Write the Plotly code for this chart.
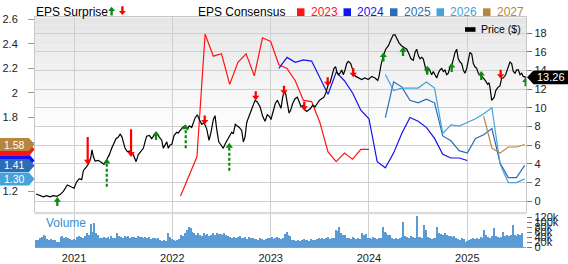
import plotly.graph_objects as go

FONT = "Liberation Sans, Arial, Helvetica, sans-serif"

# ================= DATA =================
# price: (decimal year, price $)
price_series = [
    (2020.614, 0.78), (2020.654, 0.61), (2020.688, 0.47), (2020.722, 0.61), (2020.756, 0.47),
    (2020.789, 0.61), (2020.824, 0.54), (2020.858, 0.72), (2020.891, 1.06), (2020.932, 1.74),
    (2020.966, 1.57), (2021.000, 1.40), (2021.027, 2.08), (2021.054, 2.42), (2021.078, 2.32),
    (2021.095, 3.28), (2021.122, 3.62), (2021.145, 3.96), (2021.170, 4.65), (2021.183, 5.50),
    (2021.196, 4.82), (2021.214, 4.31), (2021.247, 4.38), (2021.282, 4.13), (2021.305, 3.96),
    (2021.333, 4.48), (2021.359, 4.99), (2021.383, 5.67), (2021.407, 6.36), (2021.427, 6.70),
    (2021.451, 6.87), (2021.468, 7.21), (2021.488, 6.87), (2021.501, 6.36), (2021.519, 5.67),
    (2021.542, 5.33), (2021.570, 5.40), (2021.603, 4.99), (2021.631, 4.24), (2021.654, 4.99),
    (2021.678, 5.33), (2021.705, 5.67), (2021.722, 6.36), (2021.739, 6.97), (2021.766, 7.04),
    (2021.790, 6.70), (2021.814, 7.04), (2021.841, 7.31), (2021.867, 6.87), (2021.892, 6.53),
    (2021.908, 5.67), (2021.925, 6.02), (2021.943, 6.36), (2021.959, 5.67), (2021.976, 6.02),
    (2021.994, 6.08), (2022.017, 7.04), (2022.044, 7.38), (2022.061, 7.31), (2022.078, 7.55),
    (2022.105, 7.90), (2022.129, 8.07), (2022.152, 7.72), (2022.173, 8.07), (2022.197, 7.90),
    (2022.231, 8.92), (2022.254, 9.26), (2022.274, 8.75), (2022.299, 8.24), (2022.322, 8.41),
    (2022.350, 7.72), (2022.373, 6.53), (2022.393, 7.38), (2022.417, 8.75), (2022.434, 9.16),
    (2022.451, 7.72), (2022.472, 6.36), (2022.495, 6.02), (2022.518, 5.67), (2022.539, 6.19),
    (2022.559, 6.53), (2022.579, 6.87), (2022.604, 7.38), (2022.620, 7.21), (2022.640, 8.24),
    (2022.661, 8.06), (2022.681, 7.90), (2022.706, 7.55), (2022.722, 6.36), (2022.739, 6.87),
    (2022.756, 8.41), (2022.773, 8.92), (2022.790, 9.44), (2022.817, 10.11), (2022.841, 10.80),
    (2022.864, 10.63), (2022.892, 10.11), (2022.919, 9.09), (2022.942, 8.57), (2022.966, 9.26),
    (2022.986, 9.09), (2023.003, 8.75), (2023.027, 9.77), (2023.047, 10.46), (2023.068, 10.80),
    (2023.088, 10.27), (2023.105, 9.95), (2023.122, 11.14), (2023.139, 11.83), (2023.153, 11.49),
    (2023.169, 10.29), (2023.187, 9.44), (2023.204, 9.77), (2023.224, 10.46), (2023.248, 10.97),
    (2023.271, 11.14), (2023.291, 10.63), (2023.309, 10.11), (2023.332, 10.29), (2023.349, 9.77),
    (2023.367, 9.60), (2023.393, 9.77), (2023.407, 9.95), (2023.428, 10.29), (2023.451, 10.11),
    (2023.474, 10.46), (2023.495, 10.80), (2023.519, 10.97), (2023.542, 11.14), (2023.563, 11.65),
    (2023.586, 12.51), (2023.604, 12.68), (2023.621, 13.36), (2023.644, 14.22), (2023.661, 14.39),
    (2023.672, 13.88), (2023.688, 13.54), (2023.705, 13.70), (2023.722, 14.05), (2023.739, 13.54),
    (2023.756, 14.05), (2023.773, 14.73), (2023.790, 14.97), (2023.814, 14.73), (2023.830, 14.22),
    (2023.848, 13.54), (2023.865, 13.36), (2023.891, 13.19), (2023.926, 13.03), (2023.959, 13.19),
    (2023.993, 13.03), (2024.028, 13.36), (2024.061, 13.19), (2024.089, 12.92), (2024.102, 13.36),
    (2024.122, 14.56), (2024.146, 15.59), (2024.170, 16.27), (2024.196, 16.62), (2024.224, 17.30),
    (2024.247, 17.81), (2024.265, 17.81), (2024.282, 17.47), (2024.305, 16.95), (2024.333, 16.62),
    (2024.359, 16.44), (2024.384, 16.27), (2024.407, 15.75), (2024.427, 15.24), (2024.451, 15.08),
    (2024.468, 15.93), (2024.485, 16.27), (2024.502, 15.59), (2024.519, 15.24), (2024.536, 15.41),
    (2024.552, 15.24), (2024.570, 14.39), (2024.587, 13.70), (2024.610, 14.22), (2024.638, 13.54),
    (2024.654, 13.88), (2024.671, 13.54), (2024.689, 13.19), (2024.705, 13.70), (2024.722, 14.05),
    (2024.739, 14.22), (2024.756, 13.88), (2024.773, 14.05), (2024.790, 13.54), (2024.807, 13.70),
    (2024.824, 14.39), (2024.847, 14.73), (2024.875, 15.93), (2024.892, 16.27), (2024.908, 15.24),
    (2024.926, 14.90), (2024.943, 14.73), (2024.959, 14.05), (2024.976, 13.70), (2024.994, 14.22),
    (2025.010, 14.90), (2025.027, 15.93), (2025.045, 15.76), (2025.061, 14.73), (2025.078, 14.39),
    (2025.095, 14.22), (2025.112, 13.70), (2025.129, 13.54), (2025.146, 13.36), (2025.163, 13.19),
    (2025.187, 12.85), (2025.207, 12.51), (2025.221, 12.68), (2025.231, 12.16), (2025.248, 10.80),
    (2025.264, 10.97), (2025.274, 11.14), (2025.289, 11.83), (2025.309, 12.16), (2025.332, 12.34),
    (2025.350, 13.19), (2025.366, 13.19), (2025.390, 13.54), (2025.411, 14.22), (2025.434, 14.90),
    (2025.451, 14.73), (2025.468, 13.88), (2025.485, 13.70), (2025.502, 14.05), (2025.519, 14.05),
    (2025.536, 13.54), (2025.553, 13.70), (2025.569, 13.36), (2025.597, 13.26),
]

# EPS consensus (monthly), first month of each series
eps_years = ["2023", "2024", "2025", "2026", "2027"]
eps_start = {"2023": "2022-02", "2024": "2023-02", "2025": "2024-03", "2026": "2024-03", "2027": "2025-03"}
eps_2023 = [1.16, 1.32, 1.48, 2.48, 2.30, 2.32, 2.07, 2.25, 2.32, 2.14, 2.45, 2.42,
            2.23, 2.20, 2.10, 1.94, 1.93, 1.76, 1.52, 1.44, 1.51, 1.46, 1.54, 1.54]
eps_2024 = [2.20, 2.29, 2.25, 2.27, 2.26, 2.12, 1.99, 2.17, 2.10, 2.00, 1.86, 1.79,
            1.44, 1.39, 1.51, 1.67, 1.80, 1.77, 1.72, 1.63, 1.50, 1.47, 1.47, 1.45]
eps_2025 = [1.80, 2.09, 2.05, 1.94, 1.92, 1.95, 1.92, 1.65, 1.61, 1.53, 1.51, 1.63,
            1.66, 1.71, 1.43, 1.31, 1.31, 1.41]
eps_2026 = [2.15, 2.02, 2.04, 2.04, 2.04, 2.09, 2.04, 1.67, 1.74, 1.73, 1.76, 1.79,
            1.83, 1.88, 1.42, 1.27, 1.27, 1.30]
eps_2027 = [1.81, 1.55, 1.51, 1.56, 1.56, 1.58]
eps_values = {"2023": eps_2023, "2024": eps_2024, "2025": eps_2025, "2026": eps_2026, "2027": eps_2027}

# EPS surprise events: date, direction, arrow tip (price axis), far end of long arrows
surprise_t = [2020.830, 2021.139, 2021.333, 2021.580, 2021.834, 2022.136, 2022.329, 2022.579,
              2022.848, 2023.136, 2023.342, 2023.580, 2023.840, 2024.146, 2024.346, 2024.593,
              2024.841, 2025.142, 2025.339, 2025.594]
surprise_dir = ["up", "down", "up", "down", "up", "up", "down", "up",
                "down", "down", "down", "down", "down", "up", "up", "up",
                "up", "up", "down", "up"]
surprise_tip = [0.45, 3.90, 4.57, 4.75, 7.53, 8.23, 8.21, 6.26,
                10.80, 11.39, 9.68, 12.31, 13.26, 15.92, 16.50, 14.50,
                14.80, 13.94, 13.10, 13.26]
surprise_tail = [None, 6.87, 1.57, 7.72, None, 5.67, None, 3.28,
                 None, None, None, None, None, None, None, None,
                 None, None, None, None]

# weekly volume (thousands of shares)
volume_start = 2020.615
volume_k = [
    28, 30, 35, 40, 50, 45, 32, 30, 34, 28, 30, 22, 20, 40, 44, 38, 42, 36, 32, 30,
    34, 30, 42, 45, 40, 38, 44, 55, 50, 92, 60, 95, 55, 48, 38, 35, 42, 36, 40, 34,
    44, 38, 36, 55, 45, 42, 38, 45, 40, 44, 36, 42, 40, 38, 46, 40, 42, 38, 40, 36,
    40, 34, 38, 35, 32, 36, 28, 25, 30, 26, 55, 42, 34, 28, 26, 30, 32, 50, 45, 55,
    70, 82, 75, 60, 55, 50, 58, 50, 45, 55, 48, 52, 44, 50, 56, 50, 58, 52, 54, 48,
    56, 50, 46, 40, 38, 42, 36, 40, 44, 38, 36, 42, 34, 40, 38, 35, 32, 34, 30, 36,
    32, 30, 34, 38, 36, 40, 34, 38, 42, 36, 34, 38,
    52, 60, 48, 45, 28, 30, 26, 28, 25, 30, 32, 28, 30, 26, 34, 30, 28, 32, 36, 34,
    38, 32, 36, 40, 34, 36, 38, 70, 65, 82, 55, 50, 48, 36, 38, 34, 40, 36, 32, 38,
    34, 55, 50, 52, 36, 38, 34, 40, 36, 34, 38, 36, 82, 60, 55, 50, 48, 36, 34, 38,
    32, 36, 40, 100, 45, 42, 38, 44, 40, 36, 125, 40, 42, 38, 88, 70, 40, 36, 34, 38,
    36, 82, 55, 52, 48, 55, 50, 46, 44, 40, 46, 38, 34, 30, 36, 32, 22, 25, 28, 34,
    36, 32, 38, 34, 40, 36, 70, 50, 42, 38, 44, 75, 45, 42, 38, 40, 60, 44, 50, 44,
    48, 88, 50, 46, 52, 48, 55,
]

year_ticks = [2021, 2022, 2023, 2024, 2025]
year_labels = ["2021", "2022", "2023", "2024", "2025"]
eps_ticks = [1.2, 1.4, 1.6, 1.8, 2.0, 2.2, 2.4, 2.6]
eps_tick_labels = ["1.2", "1.4", "1.6", "1.8", "2", "2.2", "2.4", "2.6"]
price_ticks = [0, 2, 4, 6, 8, 10, 12, 14, 16, 18]
vol_ticks = [0, 20000, 40000, 60000, 80000, 100000, 120000]
vol_labels = ["0", "20k", "40k", "60k", "80k", "100k", "120k"]

# ================= LAYOUT / STYLE =================
W, H = 568, 264
PX_L, PX_R = 35.0, 526.3
PX_T, PX_B = 14.0, 217.3
PX_VT, PX_VB = 219.5, 254.0


def fx(px):
    return px / W


def fy(py):
    return 1 - py / H


X_RANGE = [2020.603, 2025.600]
EPS_RANGE = [1.028, 2.616]
PRICE_RANGE = [-1.17, 19.67]
VOL_RANGE = [0, 132500]

C_GRID = "#cfcfcf"
C_GREEN = "#0b8a0b"
C_RED = "#ff0000"
eps_colors = {"2023": "#ff1414", "2024": "#1212f2", "2025": "#2b6cb8",
              "2026": "#45a2da", "2027": "#b8853e"}
tag_order = ["2024", "2023", "2027", "2025", "2026"]

price_ppu = (PX_B - PX_T) / (PRICE_RANGE[1] - PRICE_RANGE[0])
eps_ppu = (PX_B - PX_T) / (EPS_RANGE[1] - EPS_RANGE[0])


def month_x(start, k):
    y, m = map(int, start.split("-"))
    return y + (m - 1 + k) / 12.0


def arrow_path(direction, head_w=3.6, head_h=4.6, stem_w=1.15, stem_len=4.4):
    s = 1 if direction == "up" else -1
    pts = [(0, 0), (head_w, -s * head_h), (stem_w, -s * head_h),
           (stem_w, -s * (head_h + stem_len)), (-stem_w, -s * (head_h + stem_len)),
           (-stem_w, -s * head_h), (-head_w, -s * head_h)]
    return "M" + " L".join(f"{x:.2f},{y:.2f}" for x, y in pts) + " Z"


fig = go.Figure()

# EPS consensus lines (left axis)
for yr in eps_years:
    vals = eps_values[yr]
    fig.add_trace(go.Scatter(
        x=[month_x(eps_start[yr], k) for k in range(len(vals))], y=vals,
        mode="lines", line=dict(color=eps_colors[yr], width=1.2),
        xaxis="x", yaxis="y", hoverinfo="skip"))

# price line (right axis)
fig.add_trace(go.Scatter(
    x=[p[0] for p in price_series], y=[p[1] for p in price_series],
    mode="lines", line=dict(color="#000000", width=1.2),
    xaxis="x", yaxis="y2", hoverinfo="skip"))

# volume bars
fig.add_trace(go.Bar(
    x=[volume_start + i / 52.18 for i in range(len(volume_k))],
    y=[v * 1000 for v in volume_k],
    width=0.72 / 52.18, marker=dict(color="#5b9bd5", line=dict(width=0)),
    xaxis="x2", yaxis="y3", hoverinfo="skip"))

shapes = []
# background gradient of the price panel
n_bands = 18
g_end = 140.0
for k in range(n_bands):
    y0 = PX_T + k * (g_end - PX_T) / n_bands
    y1 = PX_T + (k + 1) * (g_end - PX_T) / n_bands
    g = int(round(230 + (255 - 230) * k / (n_bands - 1)))
    shapes.append(dict(type="rect", xref="paper", yref="paper", layer="below",
                       x0=fx(PX_L), x1=fx(PX_R), y0=fy(y1), y1=fy(y0),
                       fillcolor=f"rgb({g},{g},{g})", line=dict(width=0)))

# separator between panels
shapes.append(dict(type="rect", xref="paper", yref="paper", layer="above",
                   x0=fx(PX_L), x1=fx(PX_R), y0=fy(PX_VT), y1=fy(PX_B),
                   fillcolor="#dcdcdc", line=dict(width=0)))

# surprise arrows
for t, d, tip, tail in zip(surprise_t, surprise_dir, surprise_tip, surprise_tail):
    col = C_GREEN if d == "up" else C_RED
    if tail is not None:
        head_h = 5.0
        base = tip - head_h / price_ppu if d == "up" else tip + head_h / price_ppu
        shapes.append(dict(type="line", xref="x", yref="y2", layer="above",
                           x0=t, x1=t, y0=tail, y1=base,
                           line=dict(color=col, width=2.2,
                                     dash="3px,2px" if d == "up" else "solid")))
        path = arrow_path(d, head_w=3.7, head_h=head_h, stem_w=0, stem_len=0)
    else:
        path = arrow_path(d)
    shapes.append(dict(type="path", xref="x", yref="y2", layer="above",
                       xsizemode="pixel", ysizemode="pixel", xanchor=t, yanchor=tip,
                       path=path, fillcolor=col, line=dict(width=0)))

annotations = []

# left EPS tags (last consensus values)
tag_path = (f"M 0,6.5 L {fx(29):.5f},6.5 L {fx(34.5):.5f},0 "
            f"L {fx(29):.5f},-6.5 L 0,-6.5 Z")
for i, yr in enumerate(tag_order):
    v = eps_values[yr][-1]
    shapes.append(dict(type="path", xref="paper", yref="y", layer="above",
                       ysizemode="pixel", yanchor=v, path=tag_path,
                       fillcolor=eps_colors[yr], line=dict(width=0)))
    covered = any(abs(eps_values[o][-1] - v) * eps_ppu < 10.5 for o in tag_order[i + 1:])
    if not covered:
        annotations.append(dict(xref="paper", yref="y", x=fx(14.8), y=v,
                                text=f"{v:.2f}", showarrow=False, xanchor="center",
                                yanchor="middle",
                                font=dict(family=FONT, size=10.5, color="white")))

# last-price tag
last_price = price_series[-1][1]
price_tag = (f"M {fx(527):.5f},0 L {fx(533.5):.5f},6.8 L 1,6.8 L 1,-6.8 "
             f"L {fx(533.5):.5f},-6.8 Z")
shapes.append(dict(type="path", xref="paper", yref="y2", layer="above",
                   ysizemode="pixel", yanchor=last_price, path=price_tag,
                   fillcolor="#000000", line=dict(width=0)))
annotations.append(dict(xref="paper", yref="y2", x=fx(550.5), y=last_price,
                        text=f"{last_price:.2f}", showarrow=False, xanchor="center",
                        yanchor="middle", font=dict(family=FONT, size=11, color="white")))

# header: EPS Surprise
annotations.append(dict(xref="paper", yref="paper", x=fx(34), y=fy(8.3),
                        text="EPS Surprise", showarrow=False, xanchor="left",
                        yanchor="middle", font=dict(family=FONT, size=12, color="#000")))
shapes.append(dict(type="path", xref="paper", yref="paper", xsizemode="pixel",
                   ysizemode="pixel", xanchor=fx(111.6), yanchor=fy(2.8),
                   path=arrow_path("up", head_w=3.5, head_h=4.2, stem_w=1.2, stem_len=4.6),
                   fillcolor=C_GREEN, line=dict(width=0)))
shapes.append(dict(type="path", xref="paper", yref="paper", xsizemode="pixel",
                   ysizemode="pixel", xanchor=fx(122.4), yanchor=fy(11.6),
                   path=arrow_path("down", head_w=3.5, head_h=4.2, stem_w=1.2, stem_len=4.6),
                   fillcolor=C_RED, line=dict(width=0)))

# header: EPS Consensus legend
annotations.append(dict(xref="paper", yref="paper", x=fx(196), y=fy(8.3),
                        text="EPS Consensus", showarrow=False, xanchor="left",
                        yanchor="middle", font=dict(family=FONT, size=12, color="#000")))
for k, yr in enumerate(eps_years):
    x0 = 297 + k * 46.5
    shapes.append(dict(type="rect", xref="paper", yref="paper",
                       x0=fx(x0), x1=fx(x0 + 7.5), y0=fy(12.5), y1=fy(4.5),
                       fillcolor=eps_colors[yr], line=dict(width=0)))
    annotations.append(dict(xref="paper", yref="paper", x=fx(x0 + 11.5), y=fy(8.3),
                            text=yr, showarrow=False, xanchor="left", yanchor="middle",
                            font=dict(family=FONT, size=12, color=eps_colors[yr])))

# price legend
shapes.append(dict(type="rect", xref="paper", yref="paper",
                   x0=fx(465), x1=fx(475.5), y0=fy(29), y1=fy(24.2),
                   fillcolor="#000", line=dict(width=0)))
annotations.append(dict(xref="paper", yref="paper", x=fx(478.5), y=fy(26.6),
                        text="Price ($)", showarrow=False, xanchor="left", yanchor="middle",
                        font=dict(family=FONT, size=10.5, color="#000")))

# volume label
annotations.append(dict(xref="paper", yref="paper", x=fx(44), y=fy(228.8),
                        text="Volume", showarrow=False, xanchor="left", yanchor="middle",
                        font=dict(family=FONT, size=12, color="#3d8bd0")))

fig.update_layout(
    width=W, height=H, margin=dict(l=0, r=0, t=0, b=0),
    paper_bgcolor="white", plot_bgcolor="rgba(0,0,0,0)",
    showlegend=False, bargap=0,
    font=dict(family=FONT, size=11, color="#222"),
    xaxis=dict(domain=[fx(PX_L), fx(PX_R)], range=X_RANGE, anchor="y",
               tickvals=year_ticks, showticklabels=False, ticks="",
               showgrid=True, gridcolor=C_GRID, gridwidth=1, zeroline=False,
               showline=True, linecolor="#c8c8c8", mirror=True),
    yaxis=dict(domain=[fy(PX_B), fy(PX_T)], range=EPS_RANGE, anchor="x",
               tickvals=eps_ticks, ticktext=eps_tick_labels, ticks="outside",
               ticklen=6, tickcolor="#9a9a9a", showgrid=False, zeroline=False,
               showline=True, linecolor="#c8c8c8", mirror=True, ticklabelstandoff=8,
               tickfont=dict(family=FONT, size=11, color="#222")),
    yaxis2=dict(overlaying="y", side="right", anchor="x", range=PRICE_RANGE,
                tickvals=price_ticks, ticks="outside", ticklen=5, tickcolor="#777",
                showgrid=True, gridcolor=C_GRID, zeroline=False, showline=False,
                tickfont=dict(family=FONT, size=11, color="#222")),
    xaxis2=dict(domain=[fx(PX_L), fx(PX_R)], anchor="y3", range=X_RANGE,
                tickvals=year_ticks, ticktext=year_labels, ticks="",
                showgrid=True, gridcolor=C_GRID, zeroline=False,
                showline=True, linecolor="#9a9a9a",
                tickfont=dict(family=FONT, size=11, color="#222")),
    yaxis3=dict(domain=[fy(PX_VB), fy(PX_VT)], anchor="x2", side="right",
                range=VOL_RANGE, tickvals=vol_ticks, ticktext=vol_labels,
                ticks="outside", ticklen=5, tickcolor="#777", showgrid=False,
                zeroline=False, showline=False,
                tickfont=dict(family=FONT, size=11, color="#222")),
    shapes=shapes, annotations=annotations,
)

fig.write_html("out.html", config={"displayModeBar": False})
